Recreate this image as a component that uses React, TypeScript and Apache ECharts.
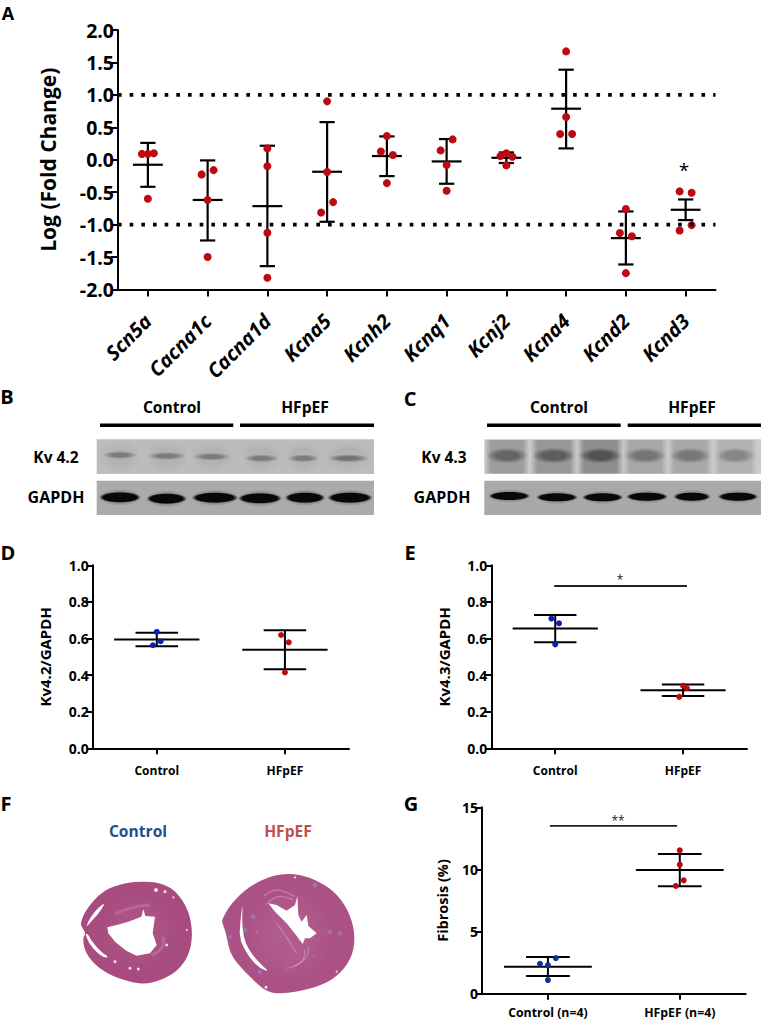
import React, { useEffect, useRef } from "react";
import * as echarts from "echarts";

const FONT = "Open Sans";

// Panel A
const genes = ["Scn5a", "Cacna1c", "Cacna1d", "Kcna5", "Kcnh2", "Kcnq1", "Kcnj2", "Kcna4", "Kcnd2", "Kcnd3"];
const geneValues = [
  [0.09, 0.09, 0.1, -0.6],
  [-0.226, -0.16, -0.62, -1.5],
  [0.175, -0.1, -1.126, -1.82],
  [0.9, -0.19, -0.653, -0.812],
  [0.365, 0.128, 0.072, -0.36],
  [0.314, 0.144, -0.082, -0.478],
  [0.1, 0.056, 0.046, -0.087],
  [1.67, 0.658, 0.396, 0.396],
  [-0.76, -1.13, -1.18, -1.748],
  [-0.488, -0.509, -1.008, -1.09],
];
const geneOffsets = [
  [-0.1, 0, 0.1, 0],
  [-0.1, 0.1, 0, 0],
  [0, 0, 0, 0],
  [0, 0, 0.1, -0.1],
  [0, -0.1, 0.1, 0],
  [0.1, -0.1, 0, 0],
  [0, -0.1, 0.1, 0],
  [0, 0, -0.1, 0.1],
  [0, -0.1, 0.1, 0],
  [-0.1, 0.1, 0.1, -0.1],
];
const geneMeans = [-0.077, -0.62, -0.715, -0.185, 0.057, -0.026, 0.03, 0.787, -1.208, -0.771];
const geneUpper = [0.26, -0.01, 0.216, 0.58, 0.36, 0.319, 0.113, 1.388, -0.797, -0.612];
const geneLower = [-0.417, -1.244, -1.64, -0.956, -0.252, -0.37, -0.05, 0.175, -1.614, -0.93];
const thresholds = [1, -1];

// Panel D
const groupsDE = ["Control", "HFpEF"];
const kv42Control = [0.636, 0.585, 0.563];
const kv42ControlX = [0, 0.03, -0.03];
const kv42Hf = [0.619, 0.579, 0.415];
const kv42HfX = [-0.03, 0.03, 0];
const kv42Means = [0.594, 0.539];
const kv42Upper = [0.632, 0.645];
const kv42Lower = [0.557, 0.432];

// Panel E
const kv43Control = [0.709, 0.683, 0.568];
const kv43ControlX = [-0.03, 0.03, 0];
const kv43Hf = [0.342, 0.328, 0.281];
const kv43HfX = [0, 0.03, -0.03];
const kv43Means = [0.654, 0.317];
const kv43Upper = [0.729, 0.348];
const kv43Lower = [0.579, 0.286];
const kv43Sig = [[-0.008, 0.887], [1.03, 0.887]];

// Panel G
const groupsG = ["Control (n=4)", "HFpEF (n=4)"];
const fibControl = [2.87, 2.41, 2.31, 1.1];
const fibControlX = [0.06, -0.06, 0, 0];
const fibHf = [11.54, 10.38, 9.12, 8.67];
const fibHfX = [0, 0, 0.03, -0.03];
const fibMeans = [2.17, 9.95];
const fibUpper = [2.95, 11.24];
const fibLower = [1.42, 8.64];
const fibSig = [[0.015, 13.5], [0.98, 13.5]];

const RED = "#bd0a12";
const BLUE = "#0c1eb4";
const BLUE_G = "#10309c";

const errorSeries = (
  grid: number,
  means: number[],
  lower: number[],
  upper: number[],
  meanHalf: number,
  capHalf: number,
  lw: number
) => ({
  type: "custom",
  xAxisIndex: grid * 2 + 1,
  yAxisIndex: grid,
  clip: false,
  silent: true,
  data: means.map((m, i) => [i, m, lower[i], upper[i]]),
  encode: { x: 0, y: [1, 2, 3] },
  renderItem: (_: any, api: any) => {
    const x = api.value(0);
    const c = api.coord([x, api.value(1)]);
    const lo = api.coord([x, api.value(2)]);
    const hi = api.coord([x, api.value(3)]);
    const mh = api.size([meanHalf, 0])[0];
    const ch = api.size([capHalf, 0])[0];
    const style = { stroke: "#000", lineWidth: lw, fill: "none" };
    const ln = (x1: number, y1: number, x2: number, y2: number) => ({
      type: "line",
      shape: { x1, y1, x2, y2 },
      style,
    });
    return {
      type: "group",
      children: [
        ln(c[0], lo[1], c[0], hi[1]),
        ln(c[0] - mh, c[1], c[0] + mh, c[1]),
        ln(c[0] - ch, lo[1], c[0] + ch, lo[1]),
        ln(c[0] - ch, hi[1], c[0] + ch, hi[1]),
      ],
    };
  },
});

const dots = (grid: number, xs: number[], ys: number[], color: string, size: number) => ({
  type: "scatter",
  xAxisIndex: grid * 2 + 1,
  yAxisIndex: grid,
  symbolSize: size,
  itemStyle: { color, opacity: 1 },
  silent: true,
  data: xs.map((x, i) => [x, ys[i]]),
});

const refLine = (grid: number, data: number[][], lineStyle: any) => ({
  type: "line",
  xAxisIndex: grid * 2 + 1,
  yAxisIndex: grid,
  showSymbol: false,
  silent: true,
  data,
  lineStyle,
});

const xPair = (
  grid: number,
  cats: string[],
  fontSize: number,
  margin: number,
  tick: number,
  extra: any = {}
) => [
  {
    type: "category",
    gridIndex: grid,
    data: cats,
    boundaryGap: true,
    axisLine: { show: true, onZero: false, lineStyle: { color: "#000", width: 2 } },
    axisTick: { show: true, alignWithLabel: true, length: tick, lineStyle: { color: "#000", width: 2 } },
    axisLabel: {
      color: "#000",
      fontFamily: FONT,
      fontWeight: "bold",
      fontSize,
      margin,
      interval: 0,
      ...extra,
    },
    splitLine: { show: false },
  },
  {
    type: "value",
    gridIndex: grid,
    show: false,
    min: -0.5,
    max: cats.length - 0.5,
    splitLine: { show: false },
  },
];

const yAxis = (
  grid: number,
  min: number,
  max: number,
  interval: number,
  decimals: number,
  name: string,
  fontSize: number,
  nameSize: number,
  nameGap: number,
  tick: number
) => ({
  type: "value",
  gridIndex: grid,
  min,
  max,
  interval,
  name,
  nameLocation: "middle",
  nameGap,
  nameRotate: 90,
  nameTextStyle: { color: "#000", fontFamily: FONT, fontWeight: "bold", fontSize: nameSize },
  axisLine: { show: true, onZero: false, lineStyle: { color: "#000", width: 2 } },
  axisTick: { show: true, length: tick, lineStyle: { color: "#000", width: 2 } },
  axisLabel: {
    color: "#000",
    fontFamily: FONT,
    fontWeight: "bold",
    fontSize,
    margin: 4,
    formatter: (v: number) => v.toFixed(decimals),
  },
  splitLine: { show: false },
});

const label = (text: string, x: number, y: number, fontSize: number, fill = "#000", fontWeight: any = "bold") => ({
  type: "text",
  silent: true,
  z: 20,
  style: { text, x, y, align: "center", verticalAlign: "middle", fontFamily: FONT, fontWeight, fontSize, fill },
});

const rect = (x: number, y: number, width: number, height: number, fill: any, z = 5, r = 0) => ({
  type: "rect",
  silent: true,
  z,
  shape: { x, y, width, height, r },
  style: { fill },
});

const soft = (cx: number, cy: number, w: number, h: number, rgb: string, a: number, core = 0.55, z = 7) => ({
  type: "ellipse",
  silent: true,
  z,
  shape: { cx, cy, rx: w / 2, ry: h / 2 },
  style: {
    fill: new echarts.graphic.RadialGradient(0.5, 0.5, 0.5, [
      { offset: 0, color: `rgba(${rgb},${a})` },
      { offset: core, color: `rgba(${rgb},${a})` },
      { offset: 1, color: `rgba(${rgb},0)` },
    ]),
  },
});

const lane = (cx: number, y: number, w: number, h: number, a: number) =>
  rect(
    cx - w / 2,
    y,
    w,
    h,
    new echarts.graphic.LinearGradient(0, 0, 1, 0, [
      { offset: 0, color: `rgba(120,120,120,0)` },
      { offset: 0.15, color: `rgba(120,120,120,${a})` },
      { offset: 0.85, color: `rgba(120,120,120,${a})` },
      { offset: 1, color: `rgba(120,120,120,0)` },
    ]),
    6
  );

// Corner-cutting so that the outlines read as organic shapes
const chaikin = (pts: number[][], rounds: number) => {
  let cur = pts;
  for (let r = 0; r < rounds; r++) {
    const next: number[][] = [];
    cur.forEach((p, i) => {
      const q = cur[(i + 1) % cur.length];
      next.push([0.75 * p[0] + 0.25 * q[0], 0.75 * p[1] + 0.25 * q[1]]);
      next.push([0.25 * p[0] + 0.75 * q[0], 0.25 * p[1] + 0.75 * q[1]]);
    });
    cur = next;
  }
  return cur;
};

const poly = (pts: number[][], fill: string, rounds = 2, z = 6) => ({
  type: "polygon",
  silent: true,
  z,
  shape: { points: chaikin(pts, rounds).map(([x, y]) => [x / 3, 790 + y / 3]) },
  style: { fill },
});

const fleck = (x: number, y: number, r: number, fill: string) => ({
  type: "circle",
  silent: true,
  z: 9,
  shape: { cx: x / 3, cy: 790 + y / 3, r },
  style: { fill },
});

const curve = (pts: number[][], stroke: string, lineWidth = 1) => ({
  type: "polyline",
  silent: true,
  z: 8,
  shape: { points: pts.map(([x, y]) => [x / 3, 790 + y / 3]), smooth: 0.4 },
  style: { stroke, lineWidth, fill: "none" },
});

// Blot lanes, in crop coordinates (x z, width z, y z)
const blotB = {
  kv: [[360, 100, 210], [500, 110, 213], [635, 110, 215], [785, 100, 220], [910, 90, 220], [1045, 120, 220]],
  gapdh: [[360, 122, 337], [500, 118, 341], [645, 136, 338], [780, 128, 340], [915, 118, 338], [1050, 132, 338]],
};
const blotC = {
  kv: [[375, 120, 212, 0.55], [515, 125, 212, 0.62], [655, 125, 212, 0.72], [790, 120, 212, 0.42], [925, 120, 212, 0.4], [1060, 115, 212, 0.3]],
  gapdh: [[382, 122, 333], [525, 122, 337], [662, 120, 337], [795, 122, 335], [930, 108, 335], [1068, 118, 335]],
};

function buildBlots() {
  const out: any[] = [];
  const zy = (z: number) => 385 + z / 3;
  const kvB = { x: 96.7, w: 277.3 };
  const kvC = { x: 484.3, w: 276.7 };
  out.push(rect(kvB.x, 439.3, kvB.w, 34.7, "#bcbcbc"));
  out.push(rect(kvB.x, 480.7, kvB.w, 34.3, "#ababab"));
  out.push(rect(kvC.x, 439.3, kvC.w, 34.7, "#cacaca"));
  out.push(rect(kvC.x, 480.7, kvC.w, 34.3, "#a9a9a9"));
  blotB.kv.forEach(([x, w, y], i) => {
    out.push(soft(x / 3, 456.5, w / 3 + 8, 32, "170,170,170", 0.55, 0.5, 6));
    out.push(soft(x / 3, zy(y), w / 3 + 2, 8, "105,105,105", i === 5 ? 0.85 : 0.75, 0.45));
  });
  blotB.gapdh.forEach(([x, w, y]) => {
    out.push(soft(x / 3, zy(y), w / 3 + 3, 17, "80,80,80", 0.55, 0.5, 6));
    out.push(soft(x / 3, zy(y), w / 3 + 1, 11, "8,8,8", 1, 0.8));
  });
  blotC.kv.forEach(([x, w, y, a]) => {
    const cx = 382 + x / 3;
    out.push(lane(cx, 440, w / 3 + 5, 33.5, a));
    out.push(soft(cx, 385 + y / 3, w / 3 + 2, 16, "70,70,70", a + 0.1, 0.5));
  });
  blotC.gapdh.forEach(([x, w, y]) => {
    const cx = 382 + x / 3;
    out.push(soft(cx, 385 + y / 3, w / 3 + 3, 14, "80,80,80", 0.5, 0.5, 6));
    out.push(soft(cx, 385 + y / 3, w / 3 + 1, 9, "8,8,8", 1, 0.8));
  });
  return out;
}

const heartAOutline = [
  [243, 395], [255, 365], [290, 320], [330, 292], [395, 275], [460, 275], [510, 290], [545, 325],
  [570, 375], [578, 440], [565, 500], [530, 545], [480, 572], [430, 583], [380, 573], [330, 555],
  [285, 525], [255, 485], [248, 445], [258, 430], [243, 408],
];
const heartACavity = [
  [322, 412], [350, 405], [385, 395], [424, 380], [430, 358], [436, 378], [465, 380], [458, 430],
  [470, 465], [450, 490], [410, 497], [380, 483], [345, 455], [325, 430],
];
const heartASlit1 = [[316, 337], [290, 358], [268, 388], [258, 412], [276, 392], [300, 365]];
const heartASlit2 = [[255, 432], [272, 468], [305, 500], [328, 503], [302, 484], [276, 455], [264, 432]];
const heartBOutline = [
  [665, 390], [690, 345], [740, 295], [800, 262], [860, 250], [920, 258], [985, 290], [1030, 335],
  [1060, 400], [1065, 470], [1040, 530], [990, 575], [920, 600], [830, 613], [790, 598], [760, 570],
  [720, 530], [690, 490], [678, 430], [668, 402],
];
const heartBCavity = [
  [805, 340], [830, 345], [860, 362], [885, 345], [892, 318], [895, 375], [905, 395], [920, 375],
  [925, 408], [950, 430], [930, 445], [915, 445], [908, 462], [888, 435], [860, 400], [825, 365],
];
const heartBSlit = [
  [728, 340], [722, 385], [718, 445], [740, 490], [772, 530], [808, 546], [782, 522], [752, 488],
  [733, 450], [726, 400],
];

function buildHearts() {
  const out: any[] = [];
  out.push(poly(heartAOutline, "#a84c80"));
  out.push(soft(137, 931, 80, 78, "176,92,138", 0.4, 0.5, 6));
  out.push(poly(heartACavity, "#fff", 0, 10));
  out.push(poly(heartASlit1, "#fff", 1, 10));
  out.push(poly(heartASlit2, "#fff", 1, 10));
  [[468, 300, 2], [495, 305, 1.5], [520, 322, 1], [500, 465, 1.5], [390, 535, 1.5], [415, 537, 1.5], [560, 420, 1], [345, 515, 1.5]].forEach(
    ([x, y, r]) => out.push(fleck(x, y, r, "#f0dce8"))
  );
  out.push(curve([[345, 372], [400, 352], [450, 345]], "rgba(205,150,185,0.35)", 3));
  out.push(curve([[455, 495], [485, 475], [490, 440]], "rgba(205,150,185,0.35)", 3));

  out.push(poly(heartBOutline, "#ab5186"));
  out.push(soft(290, 935, 85, 90, "186,105,150", 0.4, 0.5, 6));
  [
    [[790, 320], [830, 300], [885, 320]],
    [[795, 345], [835, 320], [880, 330]],
    [[830, 400], [865, 450], [890, 490]],
    [[880, 530], [920, 500], [925, 470]],
    [[860, 535], [905, 515], [915, 480]],
  ].forEach((p) => out.push(curve(p, "rgba(215,170,200,0.45)", 1.5)));
  out.push(poly(heartBCavity, "#fff", 0, 10));
  out.push(poly(heartBSlit, "#fff", 1, 10));
  [
    [760, 380, 2.5], [735, 420, 2.2], [690, 440, 2], [770, 425, 1.5], [990, 425, 2.5], [1020, 430, 2.5],
    [945, 285, 2.5], [1025, 340, 1.2], [780, 545, 2], [940, 500, 1.2], [840, 440, 1.2],
  ].forEach(([x, y, r]) => out.push(fleck(x, y, r, "rgba(135,150,200,0.55)")));
  [[798, 592, 1.5], [1010, 545, 1], [885, 262, 1]].forEach(([x, y, r]) => out.push(fleck(x, y, r, "#f0dce8")));
  return out;
}

const graphicElements = [
  label("A", 8, 12.5, 18),
  label("B", 7, 396, 20),
  label("C", 410, 398, 20),
  label("D", 8, 552, 20),
  label("E", 410, 552, 20),
  label("F", 6, 803, 20),
  label("G", 411, 803, 20),
  label("*", 684, 170, 19, "#000", "normal"),
  label("*", 620, 579, 12, "#222", "normal"),
  label("**", 618, 820, 12, "#222", "normal"),
  label("Control", 172, 407, 15.6),
  label("HFpEF", 305, 407, 15.6),
  label("Control", 559, 407, 15.6),
  label("HFpEF", 692, 407, 15.6),
  label("Kv 4.2", 56, 457, 15.5),
  label("GAPDH", 56, 497, 16),
  label("Kv 4.3", 444, 457, 15.5),
  label("GAPDH", 442, 497, 16),
  rect(100, 423.5, 133.3, 3.6, "#000"),
  rect(240, 423.5, 134, 3.6, "#000"),
  rect(487, 423.5, 133.7, 3.6, "#000"),
  rect(627.7, 423.5, 133.3, 3.6, "#000"),
  label("Control", 138, 831, 15.6, "#1f4e8c"),
  label("HFpEF", 288, 831, 15.6, "#c0504d"),
  ...buildBlots(),
  ...buildHearts(),
];

const geneXs = genes.flatMap((_, i) => geneOffsets[i].map((o) => i + o));
const geneYs = geneValues.flat();

const option: any = {
  animation: false,
  backgroundColor: "#fff",
  textStyle: { fontFamily: FONT },
  grid: [
    { left: 118, top: 30, width: 597.5, height: 259.5 },
    { left: 92.7, top: 565.3, width: 256.3, height: 183 },
    { left: 491.3, top: 565.3, width: 255.7, height: 183 },
    { left: 482, top: 807.3, width: 263.7, height: 186.4 },
  ],
  xAxis: [
    ...xPair(0, genes, 20, 28, 7, { rotate: 45, fontStyle: "italic" }),
    ...xPair(1, groupsDE, 12, 16, 6),
    ...xPair(2, groupsDE, 12, 16, 6),
    ...xPair(3, groupsG, 12.3, 13, 6),
  ],
  yAxis: [
    yAxis(0, -2, 2, 0.5, 1, "Log (Fold Change)", 19.5, 21, 60, 7),
    yAxis(1, 0, 1, 0.2, 1, "Kv4.2/GAPDH", 14, 15, 40, 6),
    yAxis(2, 0, 1, 0.2, 1, "Kv4.3/GAPDH", 14, 15, 40, 6),
    yAxis(3, 0, 15, 5, 0, "Fibrosis (%)", 14, 14.5, 32, 6),
  ],
  series: [
    ...thresholds.map((t) =>
      refLine(0, [[-0.5, t], [9.5, t]], { color: "#000", width: 3.6, type: [3.6, 8.07] })
    ),
    dots(0, geneXs, geneYs, RED, 8),
    errorSeries(0, geneMeans, geneLower, geneUpper, 0.25, 0.128, 2.2),

    dots(1, kv42ControlX.map((o) => 0 + o), kv42Control, BLUE, 6),
    dots(1, kv42HfX.map((o) => 1 + o), kv42Hf, RED, 6),
    errorSeries(1, kv42Means, kv42Lower, kv42Upper, 0.333, 0.166, 2),

    dots(2, kv43ControlX.map((o) => 0 + o), kv43Control, BLUE, 6),
    dots(2, kv43HfX.map((o) => 1 + o), kv43Hf, RED, 6),
    errorSeries(2, kv43Means, kv43Lower, kv43Upper, 0.333, 0.166, 2),
    refLine(2, kv43Sig, { color: "#222", width: 1.8 }),

    dots(3, fibControlX.map((o) => 0 + o), fibControl, BLUE_G, 6),
    dots(3, fibHfX.map((o) => 1 + o), fibHf, RED, 6),
    errorSeries(3, fibMeans, fibLower, fibUpper, 0.333, 0.166, 2),
    refLine(3, fibSig, { color: "#222", width: 1.8 }),
  ],
  graphic: { elements: graphicElements },
};

export default function App() {
  const ref = useRef<HTMLDivElement>(null);
  useEffect(() => {
    const chart = echarts.init(ref.current!, undefined, { renderer: "svg" });
    chart.setOption(option);
    return () => chart.dispose();
  }, []);
  return <div ref={ref} style={{ position: "absolute", left: 0, top: 0, width: 762, height: 1020 }} />;
}
